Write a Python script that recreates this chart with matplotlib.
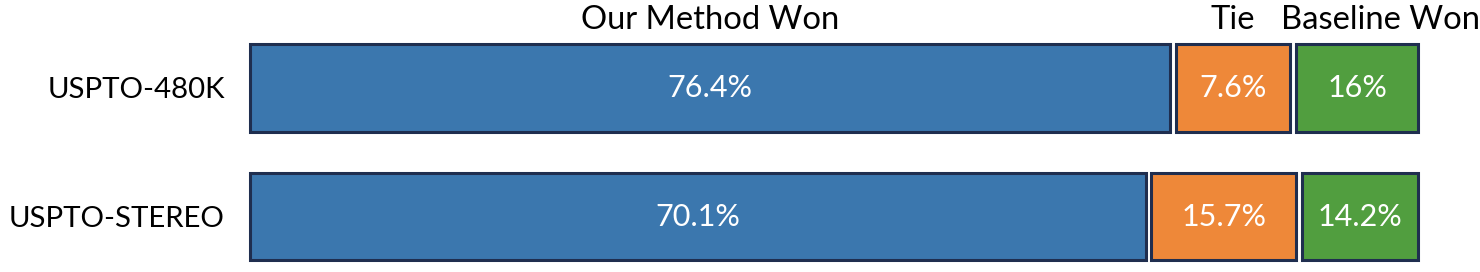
import numpy as np
import matplotlib.pyplot as plt

# data
datasets = ["USPTO-480K", "USPTO-STEREO"]
outcomes = ["Our Method Won", "Tie", "Baseline Won"]
# printed percentages inside the segments
shown_labels = [["76.4%", "7.6%", "16%"],
                ["70.1%", "15.7%", "14.2%"]]
# drawn segment widths (share of the bar length, %)
seg_widths = np.array([[78.9, 10.2, 10.9],
                       [76.8, 12.8, 10.4]])

colors = ["#3b77ae", "#ee8839", "#519e3f"]
edge_color = "#1f2e4f"
font = "Lato"

fig = plt.figure(figsize=(14.8, 2.72), dpi=100)
ax = fig.add_axes([247 / 1480, 0, 1174 / 1480, 1])

gap = 0.48
bar_h = 0.68
y = np.arange(len(datasets))

lefts = np.zeros(len(datasets))
for j, name in enumerate(outcomes):
    w = seg_widths[:, j]
    ax.barh(y, w - gap, left=lefts + gap / 2, height=bar_h,
            color=colors[j], edgecolor=edge_color, linewidth=2.2)
    for i in range(len(datasets)):
        ax.text(lefts[i] + w[i] / 2, y[i], shown_labels[i][j],
                ha="center", va="center", color="white",
                fontsize=22, family=font)
    lefts = lefts + w

# header labels above the first bar
first = seg_widths[0]
header_x = [first[0] / 2, first[0] + first[1] / 2, first[0] + first[1] + first[2] / 2 + 2.0]
for x, name in zip(header_x, outcomes):
    ax.text(x, -0.46, name, ha="center", va="baseline", fontsize=23.6, family=font)

ax.set_xlim(0, 100)
ax.set_ylim(1 + 55.5 / 128.5, -88 / 128.5)
ax.set_yticks(y)
ax.set_yticklabels(datasets, fontsize=21.2, family=font)
ax.tick_params(axis="y", length=0, pad=16)
ax.set_xticks([])
for s in ax.spines.values():
    s.set_visible(False)
ax.patch.set_alpha(0)

fig.savefig("out.png", dpi=100)
